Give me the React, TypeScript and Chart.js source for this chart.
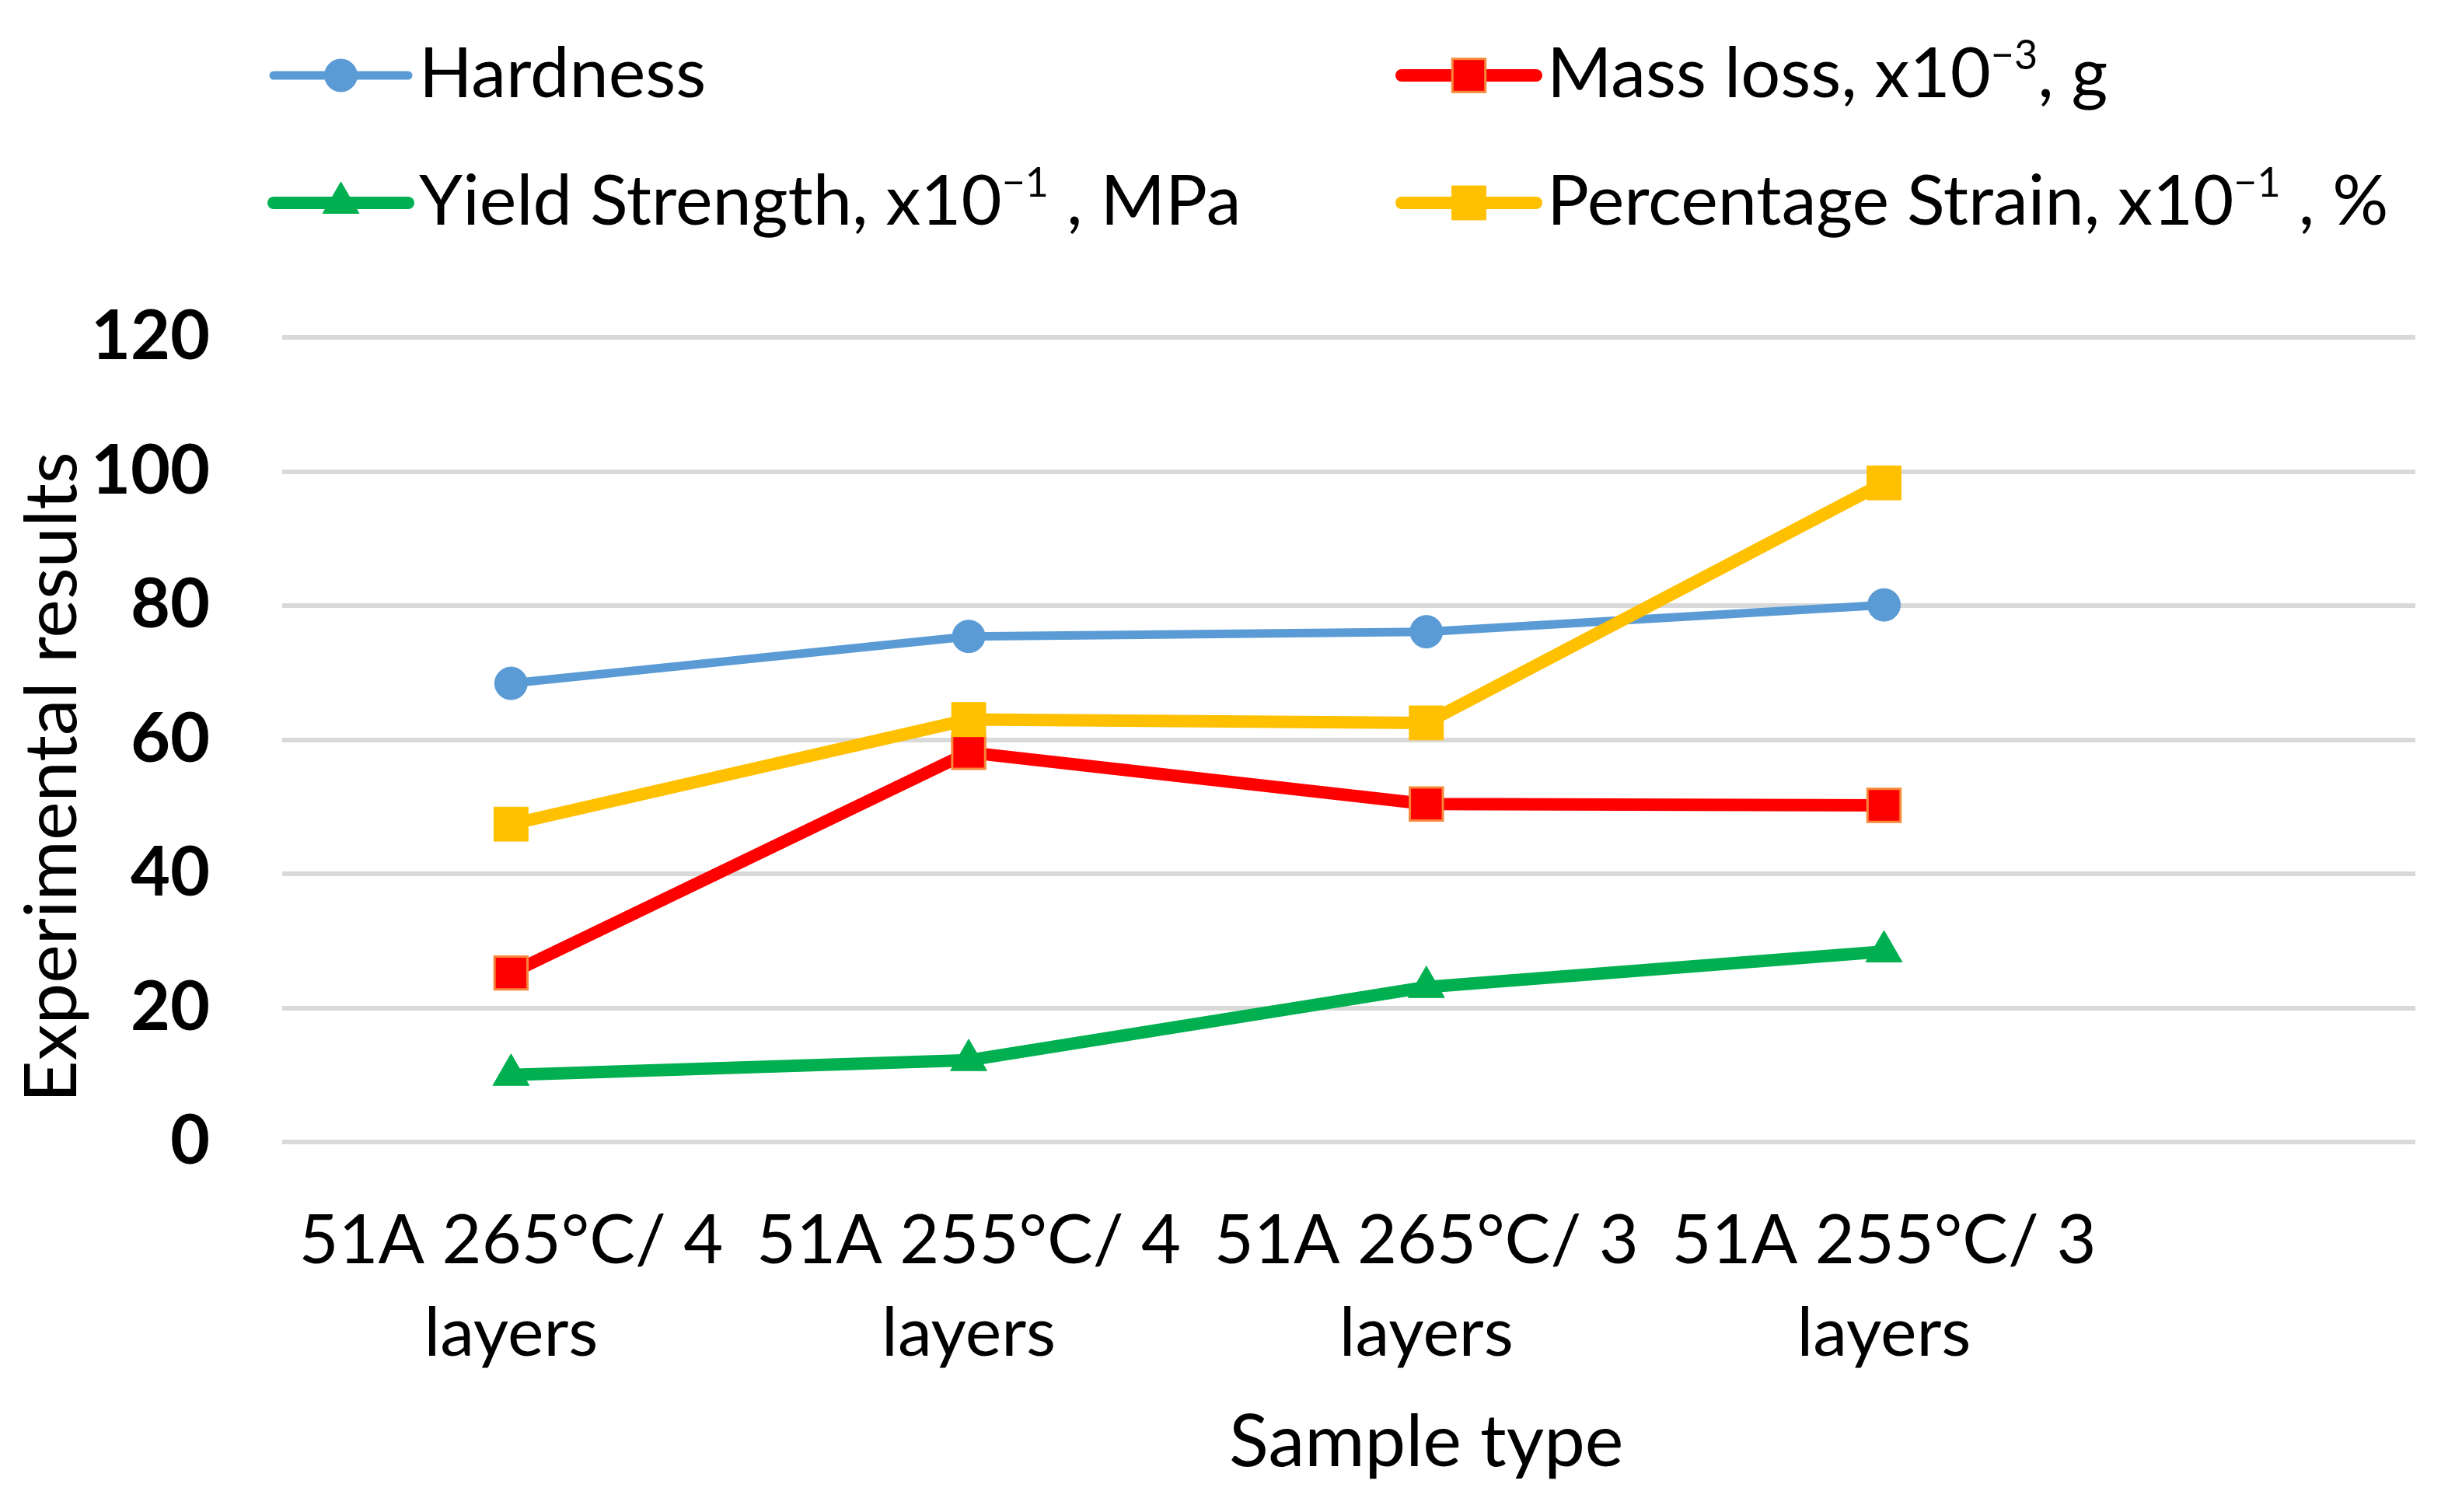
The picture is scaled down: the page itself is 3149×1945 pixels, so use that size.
import React, { useEffect, useRef } from 'react';
import { Chart, registerables } from 'chart.js';

Chart.register(...registerables);

// ---------------- data ----------------
const categories = [
  '51A 265°C/ 4 layers',
  '51A 255°C/ 4 layers',
  '51A 265°C/ 3 layers',
  '51A 255°C/ 3 layers',
];
const hardness = [68.4, 75.4, 76.1, 80.1];
const massLoss = [25.2, 58.1, 50.4, 50.2];
const yieldStrength = [10.0, 12.2, 23.1, 28.4];
const percentageStrain = [47.4, 63.0, 62.5, 98.3];
const seriesLabels = [
  'Hardness',
  'Mass loss, x10⁻³, g',
  'Yield Strength, x10⁻¹ , MPa',
  'Percentage Strain, x10⁻¹ , %',
];
const yTicks = [0, 20, 40, 60, 80, 100, 120];
const xAxisTitle = 'Sample type';
const yAxisTitle = 'Experimental results';

// ---------------- styling ----------------
const W = 3149;
const H = 1945;
const FONT = "Lato, 'Open Sans', sans-serif";
const TEXT_SIZE = 90;
const TITLE_SIZE = 94;

const SUP: Record<string, string> = { '⁻': '−', '¹': '1', '²': '2', '³': '3' };

function drawMarker(ctx: CanvasRenderingContext2D, style: string, x: number, y: number, r: number, fill: string, stroke: string, bw: number) {
  ctx.save();
  ctx.beginPath();
  if (style === 'circle') {
    ctx.arc(x, y, r, 0, Math.PI * 2);
  } else if (style === 'rect') {
    const s = r * Math.SQRT1_2;
    ctx.rect(x - s, y - s, 2 * s, 2 * s);
  } else if (style === 'triangle') {
    let rad = 0;
    const step = (2 * Math.PI) / 3;
    ctx.moveTo(x + Math.sin(rad) * r, y - Math.cos(rad) * r);
    rad += step;
    ctx.lineTo(x + Math.sin(rad) * r, y - Math.cos(rad) * r);
    rad += step;
    ctx.lineTo(x + Math.sin(rad) * r, y - Math.cos(rad) * r);
    ctx.closePath();
  }
  ctx.fillStyle = fill;
  ctx.fill();
  if (bw > 0) {
    ctx.lineWidth = bw;
    ctx.strokeStyle = stroke;
    ctx.stroke();
  }
  ctx.restore();
}

function drawRichText(ctx: CanvasRenderingContext2D, text: string, x: number, baseline: number) {
  // split into normal / superscript runs
  const runs: { t: string; sup: boolean }[] = [];
  for (const ch of text) {
    const sup = ch in SUP;
    const c = sup ? SUP[ch] : ch;
    const last = runs[runs.length - 1];
    if (last && last.sup === sup) last.t += c;
    else runs.push({ t: c, sup });
  }
  let cx = x;
  ctx.save();
  ctx.fillStyle = '#000000';
  ctx.textAlign = 'left';
  ctx.textBaseline = 'alphabetic';
  for (const run of runs) {
    if (run.sup) {
      ctx.font = `${Math.round(TEXT_SIZE * 0.58)}px ${FONT}`;
      ctx.fillText(run.t, cx, baseline - TEXT_SIZE * 0.4);
    } else {
      ctx.font = `${TEXT_SIZE}px ${FONT}`;
      ctx.fillText(run.t, cx, baseline);
    }
    cx += ctx.measureText(run.t).width;
  }
  ctx.restore();
}

const excelLegend = {
  id: 'excelLegend',
  afterDraw(chart: any) {
    const ctx: CanvasRenderingContext2D = chart.ctx;
    const cols = [352, 1803];
    const rows = [97, 261];
    const lineLen = 173;
    chart.data.datasets.forEach((ds: any, i: number) => {
      const x0 = cols[i % 2];
      const y = rows[Math.floor(i / 2)];
      ctx.save();
      ctx.strokeStyle = ds.borderColor;
      ctx.lineWidth = ds.borderWidth;
      ctx.lineCap = 'round';
      ctx.beginPath();
      ctx.moveTo(x0, y);
      ctx.lineTo(x0 + lineLen, y);
      ctx.stroke();
      ctx.restore();
      drawMarker(ctx, ds.pointStyle, x0 + lineLen / 2, y, ds.pointRadius, ds.pointBackgroundColor, ds.pointBorderColor, ds.pointBorderWidth);
      drawRichText(ctx, ds.label, x0 + 187, y + 28);
    });
  },
};

const axisTitles = {
  id: 'axisTitles',
  afterDraw(chart: any) {
    const ctx: CanvasRenderingContext2D = chart.ctx;
    const xs = chart.scales.x;
    ctx.save();
    ctx.fillStyle = '#000000';
    ctx.font = `${TITLE_SIZE}px ${FONT}`;
    ctx.textAlign = 'center';
    ctx.textBaseline = 'middle';
    // Excel axis spans five category slots (0.5 .. 5.5); its title is centred on that span
    ctx.fillText(xAxisTitle, xs.getPixelForValue(3), 1856);
    ctx.translate(68, 1000);
    ctx.rotate(-Math.PI / 2);
    ctx.fillText(yAxisTitle, 0, 0);
    ctx.restore();
  },
};

const whiteBg = {
  id: 'whiteBg',
  beforeDraw(chart: any) {
    const ctx = chart.ctx;
    ctx.save();
    ctx.fillStyle = '#ffffff';
    ctx.fillRect(0, 0, chart.width, chart.height);
    ctx.restore();
  },
};

function splitLabel(label: string): string[] {
  const k = label.lastIndexOf(' ');
  return [label.slice(0, k), label.slice(k + 1)];
}

export default function App() {
  const ref = useRef<HTMLCanvasElement | null>(null);

  useEffect(() => {
    if (!ref.current) return;
    const pts = (arr: number[]) => arr.map((v, i) => ({ x: i + 1, y: v }));
    const chart = new Chart(ref.current, {
      type: 'line',
      data: {
        datasets: [
          {
            label: seriesLabels[0],
            data: pts(hardness),
            borderColor: '#5B9BD5',
            backgroundColor: '#5B9BD5',
            borderWidth: 11,
            pointStyle: 'circle',
            pointRadius: 21,
            pointBackgroundColor: '#5B9BD5',
            pointBorderColor: '#5B9BD5',
            pointBorderWidth: 1,
            order: 3,
          },
          {
            label: seriesLabels[1],
            data: pts(massLoss),
            borderColor: '#FF0000',
            backgroundColor: '#FF0000',
            borderWidth: 16,
            pointStyle: 'rect',
            pointRadius: 30,
            pointBackgroundColor: '#FF0000',
            pointBorderColor: '#F7873A',
            pointBorderWidth: 3,
            order: 2,
          },
          {
            label: seriesLabels[2],
            data: pts(yieldStrength),
            borderColor: '#00B050',
            backgroundColor: '#00B050',
            borderWidth: 16,
            pointStyle: 'triangle',
            pointRadius: 27,
            pointBackgroundColor: '#00B050',
            pointBorderColor: '#00B050',
            pointBorderWidth: 1,
            order: 1,
          },
          {
            label: seriesLabels[3],
            data: pts(percentageStrain),
            borderColor: '#FFC000',
            backgroundColor: '#FFC000',
            borderWidth: 16,
            pointStyle: 'rect',
            pointRadius: 31,
            pointBackgroundColor: '#FFC000',
            pointBorderColor: '#FFC000',
            pointBorderWidth: 1,
            order: 0,
          },
        ],
      },
      options: {
        animation: false,
        responsive: false,
        devicePixelRatio: 1,
        events: [],
        layout: { padding: { left: 0, top: 434, right: 42, bottom: 0 } },
        plugins: {
          legend: { display: false },
          tooltip: { enabled: false },
        },
        elements: { line: { tension: 0 } },
        scales: {
          x: {
            type: 'linear',
            min: 0.5,
            max: 5.161,
            afterBuildTicks: (scale: any) => {
              scale.ticks = categories.map((_, i) => ({ value: i + 1 }));
            },
            afterFit: (scale: any) => {
              scale.height = H - 1469;
            },
            grid: { display: false, drawTicks: false },
            border: { display: false },
            ticks: {
              autoSkip: false,
              maxRotation: 0,
              minRotation: 0,
              padding: 68,
              color: '#000000',
              font: { family: FONT, size: 88, lineHeight: 1.35 },
              callback: (value: any) => {
                const i = Math.round(Number(value)) - 1;
                return categories[i] ? splitLabel(categories[i]) : '';
              },
            },
          },
          y: {
            type: 'linear',
            min: 0,
            max: 120,
            afterBuildTicks: (scale: any) => {
              scale.ticks = yTicks.map((v) => ({ value: v }));
            },
            afterFit: (scale: any) => {
              scale.width = 363;
            },
            grid: { color: '#D9D9D9', lineWidth: 6, drawTicks: false },
            border: { display: false },
            ticks: {
              padding: 93,
              color: '#000000',
              font: { family: FONT, size: 88, weight: 'bold' },
            },
          },
        },
      },
      plugins: [whiteBg, excelLegend, axisTitles],
    } as any);
    return () => chart.destroy();
  }, []);

  return (
    <div style={{ position: 'absolute', left: 0, top: 0, width: W, height: H, background: '#ffffff' }}>
      <canvas ref={ref} width={W} height={H} style={{ width: W, height: H, display: 'block' }} />
    </div>
  );
}
